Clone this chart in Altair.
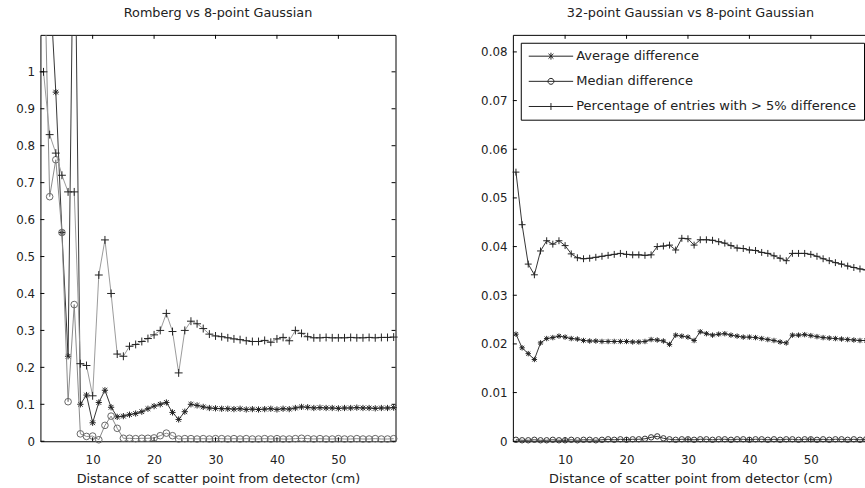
import altair as alt
import pandas as pd

# ---------------- data ----------------
X_LEFT = list(range(2, 60))
LEFT_AVG = [1.50, 1.25, 0.945, 0.565, 0.230, 1.60, 0.100, 0.125, 0.050, 0.105,
            0.138, 0.092, 0.066, 0.068, 0.072, 0.075, 0.080, 0.088, 0.095, 0.100,
            0.105, 0.078, 0.059, 0.080, 0.100, 0.097, 0.093, 0.090, 0.089, 0.088,
            0.088, 0.087, 0.088, 0.086, 0.087, 0.086, 0.087, 0.088, 0.086, 0.088,
            0.087, 0.090, 0.093, 0.092, 0.090, 0.091, 0.090, 0.090, 0.089, 0.090,
            0.090, 0.091, 0.090, 0.090, 0.089, 0.090, 0.090, 0.091]
LEFT_MED = [1.40, 0.662, 0.762, 0.565, 0.107, 0.370, 0.020, 0.013, 0.014, 0.004,
            0.043, 0.068, 0.035, 0.008, 0.008, 0.007, 0.008, 0.008, 0.009, 0.015,
            0.022, 0.015, 0.006, 0.007, 0.007, 0.006, 0.007, 0.006, 0.007, 0.007,
            0.006, 0.007, 0.006, 0.007, 0.006, 0.006, 0.007, 0.006, 0.007, 0.006,
            0.006, 0.007, 0.008, 0.007, 0.006, 0.007, 0.006, 0.006, 0.007, 0.006,
            0.006, 0.007, 0.006, 0.006, 0.007, 0.006, 0.006, 0.007]
LEFT_PCT = [1.000, 0.830, 0.780, 0.720, 0.675, 0.675, 0.210, 0.205, 0.123, 0.450,
            0.545, 0.400, 0.236, 0.230, 0.257, 0.262, 0.270, 0.278, 0.288, 0.300,
            0.346, 0.297, 0.185, 0.300, 0.325, 0.318, 0.305, 0.290, 0.285, 0.283,
            0.280, 0.277, 0.275, 0.272, 0.270, 0.270, 0.273, 0.268, 0.277, 0.281,
            0.272, 0.300, 0.292, 0.283, 0.280, 0.280, 0.281, 0.280, 0.280, 0.280,
            0.281, 0.280, 0.280, 0.281, 0.280, 0.281, 0.281, 0.282]

X_RIGHT = list(range(2, 60))
RIGHT_AVG = [0.0220, 0.0192, 0.0180, 0.0168, 0.0202, 0.0211, 0.0213, 0.0216, 0.0214, 0.0211,
             0.0210, 0.0207, 0.0206, 0.0206, 0.0205, 0.0205, 0.0205, 0.0205, 0.0205, 0.0204,
             0.0204, 0.0205, 0.0209, 0.0208, 0.0206, 0.0199, 0.0218, 0.0216, 0.0214, 0.0207,
             0.0225, 0.0221, 0.0218, 0.0220, 0.0221, 0.0218, 0.0216, 0.0214, 0.0214, 0.0213,
             0.0211, 0.0209, 0.0207, 0.0204, 0.0202, 0.0218, 0.0218, 0.0219, 0.0217, 0.0215,
             0.0213, 0.0212, 0.0211, 0.0210, 0.0209, 0.0208, 0.0207, 0.0207]
RIGHT_MED = [0.0003, 0.0002, 0.0002, 0.0003, 0.0002, 0.0002, 0.0003, 0.0002, 0.0002, 0.0003,
             0.0002, 0.0003, 0.0003, 0.0002, 0.0003, 0.0004, 0.0003, 0.0004, 0.0003, 0.0004,
             0.0004, 0.0005, 0.0008, 0.0010, 0.0006, 0.0004, 0.0003, 0.0004, 0.0004, 0.0003,
             0.0004, 0.0004, 0.0003, 0.0004, 0.0004, 0.0003, 0.0004, 0.0004, 0.0003, 0.0004,
             0.0004, 0.0003, 0.0004, 0.0003, 0.0004, 0.0004, 0.0003, 0.0004, 0.0004, 0.0003,
             0.0004, 0.0003, 0.0004, 0.0004, 0.0003, 0.0004, 0.0003, 0.0004]
RIGHT_PCT = [0.0553, 0.0445, 0.0364, 0.0342, 0.0391, 0.0412, 0.0405, 0.0412, 0.0402, 0.0385,
             0.0377, 0.0375, 0.0376, 0.0378, 0.0380, 0.0382, 0.0384, 0.0386, 0.0384, 0.0383,
             0.0383, 0.0382, 0.0383, 0.0400, 0.0401, 0.0403, 0.0393, 0.0417, 0.0416, 0.0403,
             0.0414, 0.0414, 0.0413, 0.0410, 0.0407, 0.0402, 0.0397, 0.0396, 0.0393, 0.0392,
             0.0388, 0.0386, 0.0381, 0.0376, 0.0371, 0.0386, 0.0386, 0.0386, 0.0384, 0.0380,
             0.0375, 0.0371, 0.0367, 0.0364, 0.0360, 0.0357, 0.0354, 0.0352]

SERIES = ["Average difference", "Median difference",
          "Percentage of entries with > 5% difference"]
X_TICKS = [10, 20, 30, 40, 50]
LEFT_Y_TICKS = [0, 0.1, 0.2, 0.3, 0.4, 0.5, 0.6, 0.7, 0.8, 0.9, 1.0]
RIGHT_Y_TICKS = [0, 0.01, 0.02, 0.03, 0.04, 0.05, 0.06, 0.07, 0.08]
LEFT_TITLE = "Romberg vs 8-point Gaussian"
RIGHT_TITLE = "32-point Gaussian vs 8-point Gaussian"
X_TITLE = "Distance of scatter point from detector (cm)"

# ---------------- styling ----------------
FONT = "DejaVu Sans"
TXT = "#222222"
W, H = 360, 412
TICK = 4
X_DOM = [1.5, 59.3]

ASTER = "M-1,0H1M0,-1V1M-0.75,-0.75L0.75,0.75M-0.75,0.75L0.75,-0.75"
PLUS = "M-1,0H1M0,-1V1"
LEGEND_PATHS = [
    "M-4.5,0H4.5M0,-0.7V0.7M-0.5,-0.5L0.5,0.5M-0.5,0.5L0.5,-0.5",
    "M-4.5,0H4.5M0.6,0A0.6,0.6,0,1,1,-0.6,0A0.6,0.6,0,1,1,0.6,0",
    "M-4.5,0H4.5M0,-0.7V0.7",
]


def long_df(x, a, m, p):
    rows = []
    for s, vals in zip(SERIES, [a, m, p]):
        for xi, v in zip(x, vals):
            rows.append({"x": xi, "y": v, "series": s})
    return pd.DataFrame(rows)


def panel(df, title, ydom, yticks, styles, legend=False, right_ticks=True):
    xs = alt.Scale(domain=X_DOM, nice=False, zero=False)
    ys = alt.Scale(domain=ydom, nice=False, zero=False)
    xax = alt.Axis(values=X_TICKS, title=X_TITLE, ticks=False, tickSize=0, domain=False,
                   grid=False, labelPadding=14, titlePadding=7, format="~g")
    yax = alt.Axis(values=yticks, title=None, ticks=False, tickSize=0, domain=False,
                   grid=False, labelPadding=6, format="~g")
    base = alt.Chart(df)
    layers = []
    first = True
    for s, (lc, mc, shp, sz) in zip(SERIES, styles):
        d = base.transform_filter(alt.datum.series == s)
        if first:
            enc = dict(x=alt.X("x:Q", scale=xs, axis=xax), y=alt.Y("y:Q", scale=ys, axis=yax))
        else:
            enc = dict(x="x:Q", y="y:Q")
        layers.append(d.mark_line(clip=True, color=lc, strokeWidth=1).encode(**enc))
        first = False
        layers.append(
            d.transform_filter(alt.datum.y <= ydom[1])
            .mark_point(shape=shp, size=sz, filled=False, color=mc, strokeWidth=1, opacity=1)
            .encode(x="x:Q", y="y:Q")
        )
    xt = alt.Chart(pd.DataFrame({"x": X_TICKS}))
    yt = alt.Chart(pd.DataFrame({"y": yticks}))
    layers += [
        xt.mark_rule(color="#000", strokeWidth=1).encode(x="x:Q", y=alt.value(H), y2=alt.value(H - TICK)),
        xt.mark_rule(color="#000", strokeWidth=1).encode(x="x:Q", y=alt.value(0), y2=alt.value(TICK)),
        yt.mark_rule(color="#000", strokeWidth=1).encode(y="y:Q", x=alt.value(0), x2=alt.value(TICK)),
    ]
    if right_ticks:
        layers.append(
            yt.mark_rule(color="#000", strokeWidth=1).encode(y="y:Q", x=alt.value(W), x2=alt.value(W - TICK))
        )
    if legend:
        layers.append(
            base.mark_point(filled=False, opacity=0, clip=True).encode(
                x="x:Q", y="y:Q",
                shape=alt.Shape(
                    "series:N",
                    scale=alt.Scale(domain=SERIES, range=LEGEND_PATHS),
                    legend=alt.Legend(
                        title=None, orient="none", legendX=8, legendY=8,
                        symbolSize=100, symbolStrokeWidth=1, symbolOpacity=1,
                        symbolStrokeColor=TXT, symbolFillColor="transparent",
                        labelFont=FONT, labelFontSize=13.2, labelColor=TXT, labelLimit=500,
                        padding=7, strokeColor="#000", fillColor="white",
                        rowPadding=11.5, symbolOffset=17, labelOffset=19,
                    ),
                ),
                color=alt.value(TXT),
            )
        )
    return alt.layer(*layers).properties(
        width=W, height=H,
        title=alt.Title(title, font=FONT, fontSize=13, fontWeight="normal", color=TXT,
                        offset=15, frame="group", anchor="middle"),
    )


left_df = long_df(X_LEFT, LEFT_AVG, LEFT_MED, LEFT_PCT)
right_df = long_df(X_RIGHT, RIGHT_AVG, RIGHT_MED, RIGHT_PCT)

left_styles = [("#333333", "#222222", ASTER, 40),
               ("#888888", "#666666", "circle", 45),
               ("#999999", "#222222", PLUS, 64)]
right_styles = [("#333333", "#222222", ASTER, 30),
                ("#333333", "#333333", "circle", 30),
                ("#333333", "#222222", PLUS, 49)]

left = panel(left_df, LEFT_TITLE, [0, 1.1], LEFT_Y_TICKS, left_styles)
right = panel(right_df, RIGHT_TITLE, [0, 0.0835], RIGHT_Y_TICKS, right_styles,
              legend=True, right_ticks=False)

chart = (
    alt.hconcat(left, right, spacing=80)
    .resolve_scale(x="independent", y="independent", shape="independent")
    .resolve_legend(shape="independent")
    .properties(background="white",
                padding={"left": 15, "top": 3, "right": -8, "bottom": -5})
    .configure_view(stroke="#000000", strokeWidth=1)
    .configure_axis(labelFont=FONT, labelFontSize=12, labelColor=TXT,
                    titleFont=FONT, titleFontSize=13, titleFontWeight="normal", titleColor=TXT)
)

chart.save("out.html", embed_options={"renderer": "svg", "actions": False})
